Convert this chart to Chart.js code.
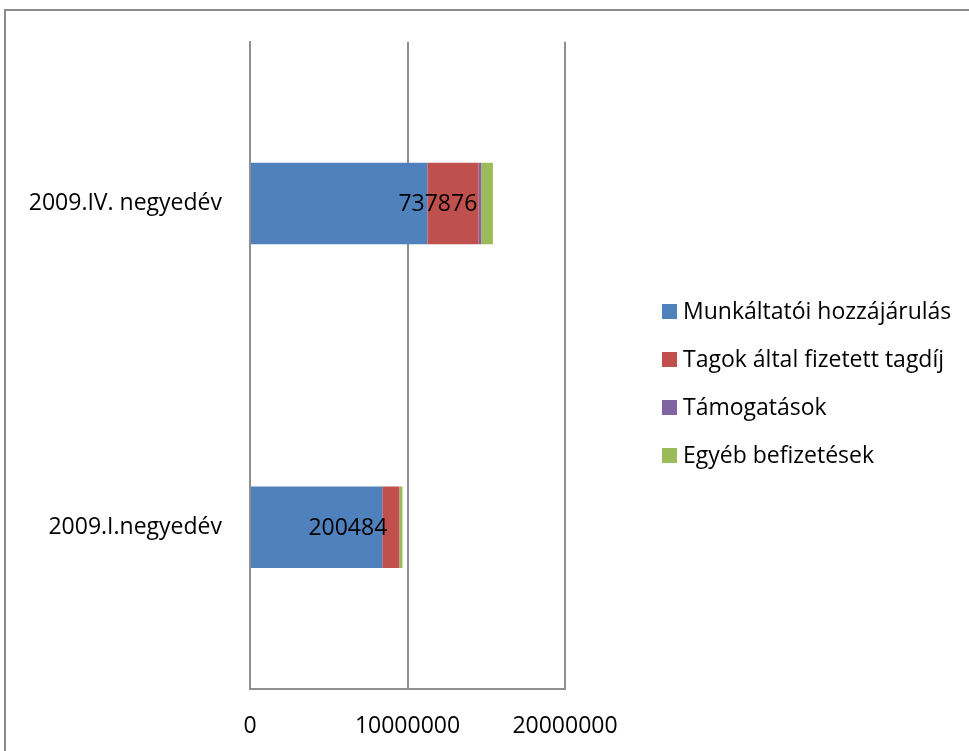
<!DOCTYPE html>
<html>
<head>
<meta charset="utf-8">
<title>Befizetések 2009</title>
<script src="https://cdn.jsdelivr.net/npm/chart.js@4/dist/chart.umd.min.js"></script>
<style>
  html, body { margin: 0; padding: 0; background: #ffffff; overflow: hidden; }
  #chart { display: block; }
</style>
</head>
<body>
<canvas id="chart" width="969" height="751"></canvas>
<script>
// Quarters shown on the category axis (top to bottom)
const categories = ['2009.IV. negyedév', '2009.I.negyedév'];

// Contributions by type, HUF
const munkaltatoiHozzajarulas = [11260000, 8400000];
const tagokAltalFizetettTagdij = [3260000, 1080000];
const tamogatasok = [165000, 0];
const egyebBefizetesek = [737876, 200484];

// Value axis ticks
const valueTicks = [0, 10000000, 20000000];

// Series names and colours
const seriesNames = ['Munkáltatói hozzájárulás', 'Tagok által fizetett tagdíj', 'Támogatások', 'Egyéb befizetések'];
const seriesColors = ['#4F81BD', '#C0504D', '#8064A2', '#9BBB59'];

// Horizontal nudges (px) for the value labels of the last series
const labelNudge = [-4, -12];

const FONT = '"Open Sans", Lato, sans-serif';
const FONT_SIZE = 23;
const GRID = '#8f8f8f';

const seriesValues = [munkaltatoiHozzajarulas, tagokAltalFizetettTagdij, tamogatasok, egyebBefizetesek];

// White background and the outer frame
const framePlugin = {
  id: 'frame',
  beforeDraw(chart) {
    const ctx = chart.ctx;
    ctx.save();
    ctx.fillStyle = '#ffffff';
    ctx.fillRect(0, 0, chart.width, chart.height);
    ctx.strokeStyle = '#8a8a8a';
    ctx.lineWidth = 2;
    ctx.beginPath();
    ctx.moveTo(5, chart.height);
    ctx.lineTo(5, 10);
    ctx.lineTo(chart.width, 10);
    ctx.stroke();
    ctx.restore();
  }
};

// Value labels for the "Egyéb befizetések" series
const valueLabelPlugin = {
  id: 'valueLabels',
  afterDatasetsDraw(chart) {
    const ctx = chart.ctx;
    const meta = chart.getDatasetMeta(3);
    ctx.save();
    ctx.font = FONT_SIZE + 'px ' + FONT;
    ctx.fillStyle = '#000000';
    ctx.textAlign = 'right';
    ctx.textBaseline = 'middle';
    meta.data.forEach((bar, i) => {
      const left = Math.min(bar.x, bar.base);
      ctx.fillText(String(egyebBefizetesek[i]), left + labelNudge[i], bar.y + 1);
    });
    ctx.restore();
  }
};

// Legend on the right with square keys
const legendPlugin = {
  id: 'sideLegend',
  afterDraw(chart) {
    const ctx = chart.ctx;
    const x0 = chart.chartArea.right + 97;
    const yCenter = 383;
    const step = 48;
    const box = 15;
    ctx.save();
    ctx.font = FONT_SIZE + 'px ' + FONT;
    ctx.textBaseline = 'middle';
    ctx.textAlign = 'left';
    chart.data.datasets.forEach((ds, i) => {
      const y = yCenter + (i - (chart.data.datasets.length - 1) / 2) * step;
      ctx.fillStyle = ds.backgroundColor;
      ctx.fillRect(x0, Math.round(y - box / 2), box, box);
      ctx.fillStyle = '#000000';
      ctx.fillText(ds.label, x0 + box + 6, y + 1);
    });
    ctx.restore();
  }
};

new Chart(document.getElementById('chart'), {
  type: 'bar',
  data: {
    labels: categories,
    datasets: seriesNames.map((name, i) => ({
      label: name,
      data: seriesValues[i],
      backgroundColor: seriesColors[i],
      borderWidth: 0,
      barPercentage: 0.252,
      categoryPercentage: 1
    }))
  },
  options: {
    indexAxis: 'y',
    responsive: false,
    animation: false,
    devicePixelRatio: 1,
    layout: { padding: { top: 38, right: 404, bottom: 0, left: 0 } },
    plugins: {
      legend: { display: false },
      tooltip: { enabled: false }
    },
    scales: {
      x: {
        stacked: true,
        min: valueTicks[0],
        max: valueTicks[valueTicks.length - 1],
        afterBuildTicks(scale) {
          scale.ticks = valueTicks.map(v => ({ value: v }));
        },
        afterFit(scale) { scale.height = 62; },
        grid: { color: GRID, lineWidth: 2, drawTicks: false },
        border: { display: true, color: GRID, width: 2 },
        ticks: {
          color: '#000000',
          font: { family: FONT, size: FONT_SIZE },
          padding: 24,
          maxRotation: 0,
          callback: v => String(v)
        }
      },
      y: {
        stacked: true,
        afterFit(scale) { scale.width = 250; },
        grid: { display: false, drawTicks: false },
        border: { display: true, color: GRID, width: 2 },
        ticks: {
          color: '#000000',
          font: { family: FONT, size: FONT_SIZE },
          padding: 28
        }
      }
    }
  },
  plugins: [framePlugin, valueLabelPlugin, legendPlugin]
});
</script>
</body>
</html>
